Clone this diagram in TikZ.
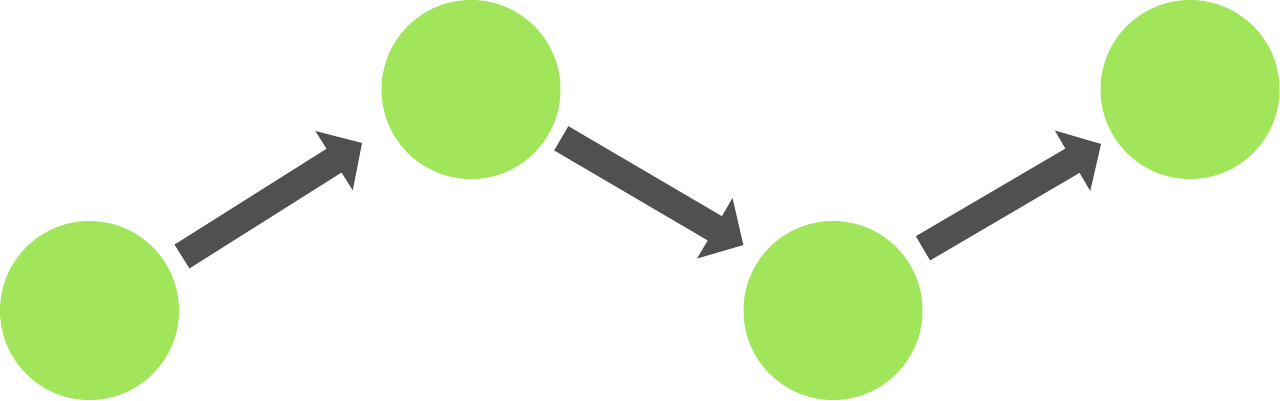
\documentclass[tikz,border=0pt]{standalone}
\usetikzlibrary{calc}
\definecolor{dotgreen}{HTML}{A1E65A}
\definecolor{arrowgrey}{HTML}{505050}
\newcommand\fatarrow[2]{%
  \fill[fatarrowstyle]
    ($(#1)!14pt!90:(#2)$) --
    ($(#2)!33pt!(#1)!14pt!90:(#2)$) --
    ($(#2)!33pt!(#1)!35pt!90:(#2)$) --
    (#2) --
    ($(#2)!33pt!(#1)!35pt!-90:(#2)$) --
    ($(#2)!33pt!(#1)!14pt!-90:(#2)$) --
    ($(#1)!14pt!-90:(#2)$) -- cycle;}
\begin{document}
\begin{tikzpicture}[x=1pt,y=-1pt,
  dot/.style={circle,fill=dotgreen,draw=none,minimum size=179pt,inner sep=0pt},
  fatarrowstyle/.style={fill=arrowgrey,draw=none}]
\useasboundingbox (0,0) rectangle (1280,400);
\node[dot] (c1) at (89.5,310.5) {};
\node[dot] (c2) at (471,89.5) {};
\node[dot] (c3) at (833,310.5) {};
\node[dot] (c4) at (1190,89.5) {};
\coordinate (a1s) at (182,256.5);
\coordinate (a1e) at (362,143);
\coordinate (a2s) at (561.3,138.3);
\coordinate (a2e) at (743.3,245);
\coordinate (a3s) at (923,248.3);
\coordinate (a3e) at (1101,144);
\fatarrow{a1s}{a1e}
\fatarrow{a2s}{a2e}
\fatarrow{a3s}{a3e}
\end{tikzpicture}
\end{document}
